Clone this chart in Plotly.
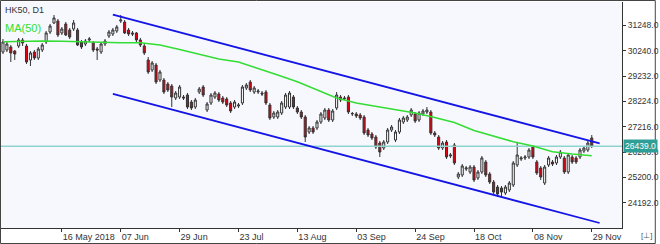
import plotly.graph_objects as go

# ---- data (bar index 0..150, daily bars) ----
opens = [30193,30273,30392,30233,30432,30671,30432,29875,30193,29955,
         30273,30591,30989,31348,31427,30950,31308,31069,31109,31069,
         30591,30512,30671,30552,30313,30193,30512,30830,30910,31029,
         31427,31387,31069,30950,30950,30671,30432,29875,29477,29676,
         29079,29079,28920,28840,28363,28402,28402,28482,28203,28004,
         28601,28800,27885,28164,28402,28522,28363,28323,28164,28004,
         28044,28164,28761,28999,28601,28601,28562,28601,28084,27606,
         27606,27766,28004,28004,28402,27965,27805,27606,27009,27169,
         27169,27407,27567,27885,27487,27965,28402,28363,28402,27726,
         27726,27686,27606,27089,26930,26810,26572,26373,26611,27089,
         26691,27009,27407,27487,27686,27726,27487,27726,27805,27805,
         26970,26810,26373,26611,26054,26492,25218,25298,25537,25417,
         25616,25179,25417,25815,25338,25019,24820,24781,24582,24701,
         24900,25696,25935,25975,26014,26412,25815,25577,24980,25696,
         25815,25776,26014,25975,25417,26014,25975,26014,26253,26293,
         26771]
highs = [30711,30631,30472,30273,30751,30751,30512,30233,30273,30392,
         30552,31029,31308,31666,31507,31188,31387,31149,31467,31149,
         30671,30711,30790,30631,30392,30552,30711,31069,31149,31268,
         31666,31467,31149,31029,30989,30751,30512,29994,29835,29756,
         29477,29159,28999,28920,28641,28880,28482,28562,28283,28363,
         28800,28880,28203,28562,28641,28601,28442,28402,28243,28283,
         28164,28880,28960,29079,28840,28721,28641,28681,28164,27845,
         27885,28243,28562,28641,28482,28044,27885,27686,27248,27248,
         27487,27805,27965,27965,27925,28601,28482,28442,28482,27805,
         27805,27766,27686,27169,27009,26890,26651,26691,27169,27288,
         27089,27567,27646,27686,27965,27805,27845,27925,28004,27885,
         27049,26890,26651,26691,26174,26572,25417,25736,25656,25696,
         25696,25497,26054,25895,25417,25099,24900,24860,24900,25059,
         25855,26572,26054,26094,26373,26492,25895,25656,25696,26054,
         25895,26094,26293,26054,26174,26094,26054,26373,26452,26651,
         26890]
lows = [30114,30193,29795,29875,30353,30432,29716,29636,29875,29875,
        30193,30512,30910,31308,30790,30870,30830,30711,31029,30432,
        30313,30432,30591,30193,29875,30114,30432,30751,30830,30950,
        31348,30910,30830,30830,30591,30392,30074,29318,29397,28920,
        28999,28522,28601,28004,28283,28323,28283,27925,27885,27925,
        28522,28402,27805,28084,28323,28203,28124,28004,27766,27925,
        27965,28084,28681,28601,28522,28522,28442,28084,27487,27527,
        27527,27686,27925,27925,27925,27726,27527,26611,26930,26930,
        27089,27328,27487,27407,27407,27885,28203,28283,27726,27646,
        27567,27487,26890,26810,26691,26333,26014,26293,26532,27009,
        26611,26930,27328,27407,27606,27368,27407,27646,27726,26890,
        26810,26293,26293,25935,25975,25696,25139,25218,25457,25338,
        25019,25099,25338,25218,24940,24541,24422,24462,24502,24621,
        24820,25616,25855,25895,25935,25935,25298,25099,24900,25616,
        25656,25696,25935,25338,25338,25736,25736,25935,26174,26213,
        26373]
closes = [30591,30512,30154,30114,30671,30552,29795,30154,29955,30313,
          30472,30950,31228,31547,30870,31109,30870,30790,31348,30472,
          30392,30631,30711,30273,30273,30512,30631,30989,31069,31188,
          31467,30950,30910,30910,30671,30472,30154,29397,29756,28999,
          29397,28601,28681,28402,28562,28800,28363,28004,27965,28283,
          28721,28482,28124,28482,28562,28283,28203,28084,27845,28203,
          28084,28800,28880,28681,28761,28641,28522,28164,27567,27766,
          27805,28164,28482,28562,28004,27805,27606,26810,27169,27009,
          27407,27726,27885,27487,27845,28482,28283,28343,27805,27746,
          27646,27567,26970,26890,26771,26412,26213,26611,27089,27208,
          27009,27487,27567,27606,27885,27447,27766,27845,27885,26970,
          26890,26373,26572,26014,26094,25776,25338,25656,25577,25616,
          25099,25417,25975,25298,25019,24621,24542,24621,24820,24980,
          25776,26094,25975,26014,26293,26014,25378,25218,25616,25975,
          25736,26014,26213,25417,26094,25815,25815,26293,26373,26572,
          26439]
bar_index = list(range(len(closes)))

# 50-period moving average, read at every 5th bar
ma_index = list(range(0, 151, 5))
ma_values = [30603,30631,30631,30619,30591,30564,30564,30564,30472,30293,
             30114,29915,29795,29545,29278,29011,28681,28363,28164,28024,
             27885,27766,27586,27388,27069,26850,26623,26452,26225,26134,
             26066]

# channel lines (two end points each)
channel_index = [28, 152]
upper_channel = [31678, 26552]
lower_channel = [28522, 23388]

last_price = 26439
price_ticks = [24192, 25200, 26208, 27216, 28224, 29232, 30240, 31248]
date_tick_index = [15, 30, 45, 60, 75, 90, 105, 120, 135, 150]
date_tick_labels = ["16 May 2018", "07 Jun", "29 Jun", "23 Jul", "13 Aug",
                    "03 Sep", "24 Sep", "18 Oct", "08 Nov", "29 Nov"]

FONT = "Liberation Sans"
fig = go.Figure()

fig.add_trace(go.Scatter(x=[bar_index[0] - 1, bar_index[-1] + 8],
                         y=[last_price, last_price], mode="lines",
                         line=dict(color="#8fd3cf", width=1.5),
                         hoverinfo="skip", showlegend=False))

fig.add_trace(go.Scatter(x=ma_index, y=ma_values, mode="lines",
                         line=dict(color="#33dd33", width=1.5),
                         hoverinfo="skip", showlegend=False))

fig.add_trace(go.Candlestick(
    x=bar_index, open=opens, high=highs, low=lows, close=closes,
    increasing=dict(fillcolor="#ffffff", line=dict(color="#333333", width=1)),
    decreasing=dict(fillcolor="#e3000f", line=dict(color="#333333", width=1)),
    whiskerwidth=0, showlegend=False))

for ys in (upper_channel, lower_channel):
    fig.add_trace(go.Scatter(x=channel_index, y=ys, mode="lines",
                             line=dict(color="#1414e6", width=1.8),
                             hoverinfo="skip", showlegend=False))

fig.update_layout(
    width=660, height=244,
    margin=dict(l=1, r=34, t=2, b=16),
    paper_bgcolor="#ffffff", plot_bgcolor="#f7f8fe",
    boxgap=0.25,
    showlegend=False,
    xaxis=dict(range=[-0.5, 157.7], showgrid=False, zeroline=False,
               rangeslider=dict(visible=False),
               showline=True, linecolor="#333333", linewidth=1,
               ticks="outside", ticklen=3, tickcolor="#333333",
               tickvals=date_tick_index, ticktext=date_tick_labels,
               ticklabelposition="outside right",
               tickfont=dict(family=FONT, size=9, color="#333333")),
    yaxis=dict(range=[23189, 32183], side="right", showgrid=False,
               zeroline=False, showline=True, linecolor="#333333",
               linewidth=1, ticks="outside", ticklen=3, tickcolor="#333333",
               tickvals=price_ticks,
               ticktext=[f"{v:.1f}" for v in price_ticks],
               tickfont=dict(family=FONT, size=8.5, color="#333333")),
)

annotations = [
    dict(text="HK50, D1", xref="paper", yref="paper", x=0.004, y=0.995,
         xanchor="left", yanchor="top", showarrow=False,
         font=dict(family=FONT, size=9, color="#333333")),
    dict(text="MA(50)", xref="paper", yref="paper", x=0.004, y=0.885,
         xanchor="left", yanchor="middle", showarrow=False,
         font=dict(family=FONT, size=11, color="#2fe02f")),
    dict(text=f"{last_price:.1f}", xref="paper", yref="y", x=1.0015,
         y=last_price, xanchor="left", yanchor="middle", showarrow=False,
         bgcolor="#2e9e96", borderpad=1,
         font=dict(family=FONT, size=8.5, color="#ffffff")),
    dict(text="[⊥]", xref="paper", yref="paper", x=1.04, y=-0.035,
         xanchor="center", yanchor="middle", showarrow=False,
         font=dict(family=FONT, size=8, color="#555555")),
]
fig.update_layout(annotations=annotations)

fig.add_shape(type="rect", xref="paper", yref="paper",
              x0=-0.0008, x1=1.0536, y0=-0.0686, y1=1.0066,
              line=dict(color="#444444", width=1), fillcolor="rgba(0,0,0,0)")

fig.write_html("out.html")
